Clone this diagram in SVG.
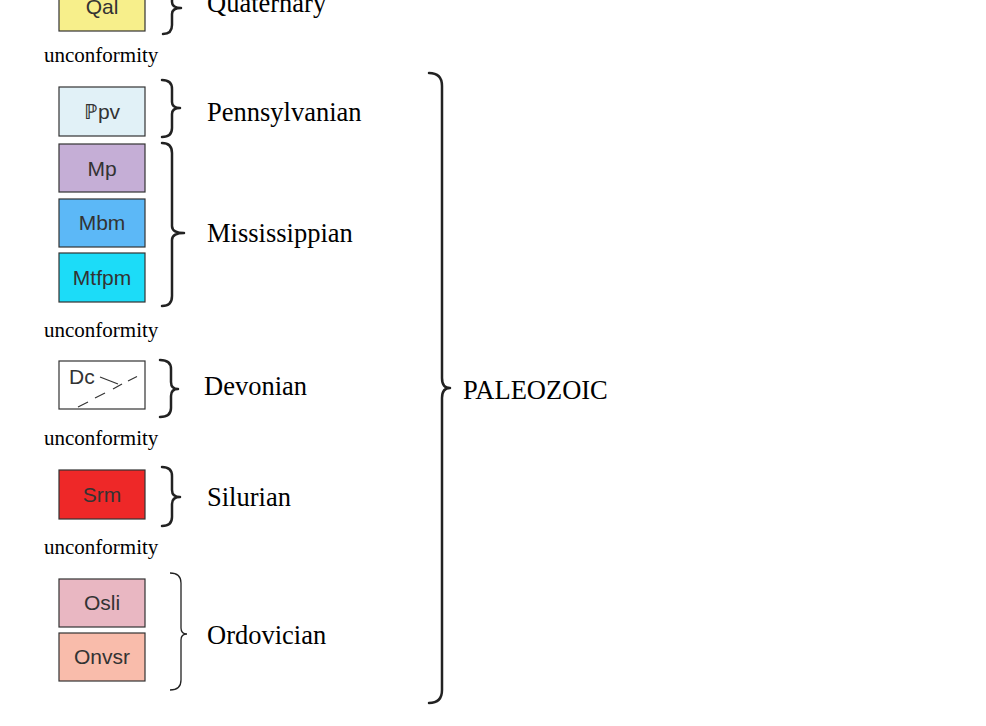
<svg xmlns="http://www.w3.org/2000/svg" width="986" height="726" viewBox="0 0 986 726">
<style>
.box{stroke:#333;stroke-width:1.2}
.bl{font-family:"Liberation Sans",Arial,sans-serif;font-size:21px;fill:#333;text-anchor:middle}
.lab{font-family:"Liberation Serif","Times New Roman",serif;font-size:26.5px;fill:#000}
.unc{font-family:"Liberation Serif","Times New Roman",serif;font-size:21px;fill:#000}
.br{fill:none;stroke:#222;stroke-width:2.5;stroke-linecap:round;stroke-linejoin:round}
.brt{fill:none;stroke:#222;stroke-width:1.3}
</style>
<rect width="986" height="726" fill="#fff"/>
<g id="Qal"><rect class="box" x="59" y="-18" width="86" height="49" fill="#f7ef8b"/><text class="bl" x="102" y="14">Qal</text></g>
<g id="Ppv"><rect class="box" x="59" y="87" width="86" height="49" fill="#e1f1f7"/><text class="bl" x="102" y="119">ℙpv</text></g>
<g id="Mp"><rect class="box" x="59" y="144" width="86" height="48" fill="#c5aed6"/><text class="bl" x="102" y="176">Mp</text></g>
<g id="Mbm"><rect class="box" x="59" y="199" width="86" height="48" fill="#5cb8f7"/><text class="bl" x="102" y="230">Mbm</text></g>
<g id="Mtfpm"><rect class="box" x="59" y="253" width="86" height="49" fill="#1cdcf8"/><text class="bl" x="102" y="285">Mtfpm</text></g>
<g id="Dc"><rect class="box" x="59" y="361" width="86" height="48" fill="#fff"/>
<text x="69" y="384" style="font-family:'Liberation Sans',Arial,sans-serif;font-size:21px;fill:#333">Dc</text>
<g stroke="#333" stroke-width="1.2" fill="none"><path d="M100 377 L118 384"/><path d="M113 389 L122 384"/><path d="M128 381 L137 376.5"/><path d="M95 398 L105 393"/><path d="M78 407 L88 402"/></g></g>
<g id="Srm"><rect class="box" x="59" y="470" width="86" height="49" fill="#ee2828"/><text class="bl" x="102" y="502">Srm</text></g>
<g id="Osli"><rect class="box" x="59" y="579" width="86" height="48" fill="#e9b7c2"/><text class="bl" x="102" y="610">Osli</text></g>
<g id="Onvsr"><rect class="box" x="59" y="633" width="86" height="48" fill="#f9bcab"/><text class="bl" x="102" y="664">Onvsr</text></g>
<g id="labels">
<text class="lab" x="207" y="12">Quaternary</text>
<text class="lab" x="207" y="121">Pennsylvanian</text>
<text class="lab" x="207" y="242">Mississippian</text>
<text class="lab" x="204" y="395">Devonian</text>
<text class="lab" x="207" y="506">Silurian</text>
<text class="lab" x="207" y="644">Ordovician</text>
<text class="lab" x="463" y="399">PALEOZOIC</text>
<text class="unc" x="44" y="62">unconformity</text>
<text class="unc" x="44" y="337">unconformity</text>
<text class="unc" x="44" y="445">unconformity</text>
<text class="unc" x="44" y="554">unconformity</text>
</g>
<g id="connectors">
<path class="br" d="M163 -20 Q172 -20 172 -10 L172 2 Q172 8 181 8 Q172 8 172 14 L172 25 Q172 34 163 34"/>
<path class="br" d="M162 80 Q172 80 172 89 L172 102 Q172 108 180 108 Q172 108 172 114 L172 128 Q172 137 162 137"/>
<path class="br" d="M162 143 Q172 143 172 153 L172 226 Q172 233 184 233 Q172 233 172 240 L172 296 Q172 306 162 306"/>
<path class="br" d="M160 360 Q171 360 171 369 L171 382 Q171 389 178 389 Q171 389 171 396 L171 408 Q171 417 160 417"/>
<path class="br" d="M162 467 Q172 467 172 476 L172 490 Q172 497 180 497 Q172 497 172 504 L172 517 Q172 526 162 526"/>
<path class="brt" d="M170 573 Q181 573 181 583 L181 628 Q181 634 187 634 Q181 634 181 640 L181 680 Q181 690 170 690"/>
<path class="br" d="M429 73 Q442 73 442 86 L442 378 Q442 388 450 388 Q442 388 442 398 L442 690 Q442 703 429 703"/>
</g>
</svg>
